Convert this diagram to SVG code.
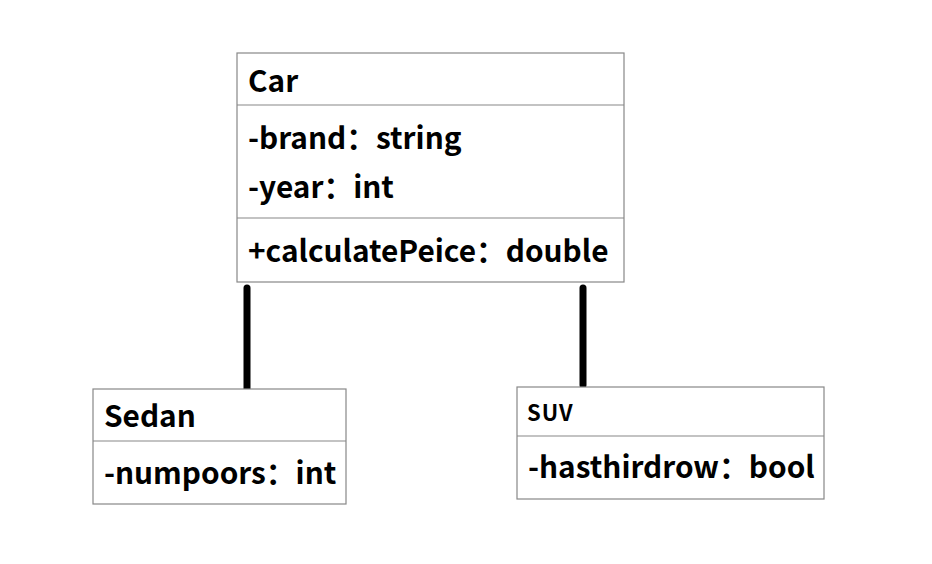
<svg xmlns="http://www.w3.org/2000/svg" width="932" height="564" viewBox="0 0 932 564">
<style>
.box{fill:#fff;stroke:#888;stroke-width:1.2}
.div{stroke:#888;stroke-width:1.2}
.t{font-family:"Noto Sans CJK SC","Microsoft YaHei","Noto Sans",sans-serif;font-weight:bold;font-size:29.8px;fill:#000}
.s{font-size:22px;letter-spacing:1px}
.conn{stroke:#000;stroke-width:7;stroke-linecap:round;fill:none}
</style>
<rect width="932" height="564" fill="#fff"/>
<g id="connectors">
<line class="conn" x1="247" y1="288" x2="247" y2="390"/>
<line class="conn" x1="583" y1="288" x2="583" y2="385"/>
</g>
<g id="car">
<rect class="box" x="237" y="53" width="387" height="229"/>
<line class="div" x1="237" y1="105" x2="624" y2="105"/>
<line class="div" x1="237" y1="218" x2="624" y2="218"/>
<text class="t" x="248" y="92">Car</text>
<text class="t" x="248" y="149">-brand：string</text>
<text class="t" x="248" y="198">-year：int</text>
<text class="t" x="248" y="262">+calculatePeice：double</text>
</g>
<g id="sedan">
<rect class="box" x="93" y="389" width="253" height="115"/>
<line class="div" x1="93" y1="441" x2="346" y2="441"/>
<text class="t" x="104" y="427">Sedan</text>
<text class="t" x="104" y="484">-numpoors：int</text>
</g>
<g id="suv">
<rect class="box" x="517" y="387" width="307" height="112"/>
<line class="div" x1="517" y1="436" x2="824" y2="436"/>
<text class="t s" x="527" y="421">SUV</text>
<text class="t" x="528" y="478">-hasthirdrow：bool</text>
</g>
</svg>
